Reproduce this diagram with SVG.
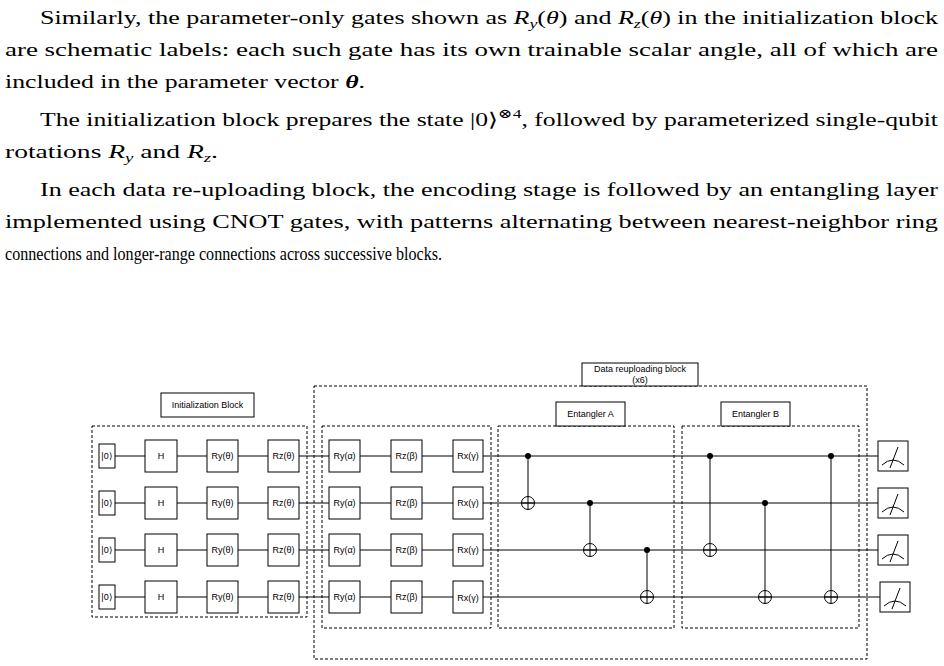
<svg xmlns="http://www.w3.org/2000/svg" width="944" height="666" viewBox="0 0 944 666">
<style>
.t{font-family:"Liberation Serif","DejaVu Serif",serif;font-size:19px;fill:#000}
.i{font-style:italic}
.g{fill:#fff;stroke:#000;stroke-width:1}
.gl{font-family:"Liberation Sans",Arial,sans-serif;font-size:9px;text-anchor:middle;dominant-baseline:central;fill:#000}
.d{fill:none;stroke:#000;stroke-width:1;stroke-dasharray:3,2}
.w{stroke:#000;stroke-width:1;fill:none}
</style>
<rect width="944" height="666" fill="#fff"/>
<g id="text">
<text class="t" x="40" y="24" textLength="898" lengthAdjust="spacingAndGlyphs">Similarly, the parameter-only gates shown as <tspan class="i">R</tspan><tspan class="i" font-size="13" dy="4">y</tspan><tspan dy="-4">(</tspan><tspan class="i">θ</tspan>) and <tspan class="i">R</tspan><tspan class="i" font-size="13" dy="4">z</tspan><tspan dy="-4">(</tspan><tspan class="i">θ</tspan>) in the initialization block</text>
<text class="t" x="5" y="56" textLength="933" lengthAdjust="spacingAndGlyphs">are schematic labels: each such gate has its own trainable scalar angle, all of which are</text>
<text class="t" x="5" y="88" textLength="360" lengthAdjust="spacingAndGlyphs">included in the parameter vector <tspan font-weight="bold" class="i">θ</tspan>.</text>
<text class="t" x="40" y="126" textLength="898" lengthAdjust="spacingAndGlyphs">The initialization block prepares the state |0⟩<tspan font-size="13" dy="-8">⊗4</tspan><tspan dy="8">, followed by parameterized single-qubit</tspan></text>
<text class="t" x="5" y="158" textLength="213" lengthAdjust="spacingAndGlyphs">rotations <tspan class="i">R</tspan><tspan class="i" font-size="13" dy="4">y</tspan><tspan dy="-4"> and </tspan><tspan class="i">R</tspan><tspan class="i" font-size="13" dy="4">z</tspan><tspan dy="-4">.</tspan></text>
<text class="t" x="40" y="196" textLength="898" lengthAdjust="spacingAndGlyphs">In each data re-uploading block, the encoding stage is followed by an entangling layer</text>
<text class="t" x="5" y="228" textLength="933" lengthAdjust="spacingAndGlyphs">implemented using CNOT gates, with patterns alternating between nearest-neighbor ring</text>
<text class="t" x="5" y="260" textLength="437" lengthAdjust="spacingAndGlyphs">connections and longer-range connections across successive blocks.</text>
</g>
<g id="blocks">
<rect class="d" x="92" y="426" width="215" height="191"/>
<rect class="d" x="314" y="386" width="553" height="273"/>
<rect class="d" x="322" y="426" width="169" height="202"/>
<rect class="d" x="498" y="426" width="176" height="202"/>
<rect class="d" x="682" y="426" width="177" height="202"/>
<g id="lbl-init"><rect class="g" x="161" y="393" width="93" height="24"/><text class="gl" x="207.5" y="405">Initialization Block</text></g>
<g id="lbl-data"><rect class="g" x="582" y="363" width="116" height="23"/><text class="gl" x="640" y="369">Data reuploading block</text><text class="gl" x="640" y="380">(x6)</text></g>
<g id="lbl-entA"><rect class="g" x="556" y="402" width="69" height="24"/><text class="gl" x="590.5" y="414">Entangler A</text></g>
<g id="lbl-entB"><rect class="g" x="721" y="402" width="69" height="24"/><text class="gl" x="755.5" y="414">Entangler B</text></g>
</g>
<g id="connectors">
<path class="w" d="M115 456H878M115 503H878M115 550H878M115 597H880"/>
<path class="w" d="M528 456V509.5M590 503V556.5M647 550V603.5M710 456V556.5M765 503V603.5M831 456V603.5"/>
<g fill="#000"><circle cx="528" cy="456" r="3"/><circle cx="590" cy="503" r="3"/><circle cx="647" cy="550" r="3"/><circle cx="710" cy="456" r="3"/><circle cx="765" cy="503" r="3"/><circle cx="831" cy="456" r="3"/></g>
<g fill="none" stroke="#000"><circle cx="528" cy="503" r="6.5"/><circle cx="590" cy="550" r="6.5"/><circle cx="647" cy="597" r="6.5"/><circle cx="710" cy="550" r="6.5"/><circle cx="765" cy="597" r="6.5"/><circle cx="831" cy="597" r="6.5"/>
<path d="M521.5 503H534.5M583.5 550H596.5M640.5 597H653.5M703.5 550H716.5M758.5 597H771.5M824.5 597H837.5"/></g>
</g>
<g id="gates">
<g id="q0"><rect class="g" x="99" y="444" width="16" height="24"/><text class="gl" x="107" y="456">|0⟩</text><rect class="g" x="145" y="440" width="32" height="32"/><text class="gl" x="161" y="456">H</text><rect class="g" x="207" y="440" width="31" height="32"/><text class="gl" x="222.5" y="456">Ry(θ)</text><rect class="g" x="268" y="440" width="31" height="32"/><text class="gl" x="283.5" y="456">Rz(θ)</text><rect class="g" x="329" y="440" width="31" height="32"/><text class="gl" x="344.5" y="456">Ry(α)</text><rect class="g" x="391" y="440" width="31" height="32"/><text class="gl" x="406.5" y="456">Rz(β)</text><rect class="g" x="453" y="440" width="30" height="32"/><text class="gl" x="468" y="456">Rx(γ)</text></g>
<g id="q1"><rect class="g" x="99" y="491" width="16" height="24"/><text class="gl" x="107" y="503">|0⟩</text><rect class="g" x="145" y="487" width="32" height="32"/><text class="gl" x="161" y="503">H</text><rect class="g" x="207" y="487" width="31" height="32"/><text class="gl" x="222.5" y="503">Ry(θ)</text><rect class="g" x="268" y="487" width="31" height="32"/><text class="gl" x="283.5" y="503">Rz(θ)</text><rect class="g" x="329" y="487" width="31" height="32"/><text class="gl" x="344.5" y="503">Ry(α)</text><rect class="g" x="391" y="487" width="31" height="32"/><text class="gl" x="406.5" y="503">Rz(β)</text><rect class="g" x="453" y="487" width="30" height="32"/><text class="gl" x="468" y="503">Rx(γ)</text></g>
<g id="q2"><rect class="g" x="99" y="538" width="16" height="24"/><text class="gl" x="107" y="550">|0⟩</text><rect class="g" x="145" y="534" width="32" height="32"/><text class="gl" x="161" y="550">H</text><rect class="g" x="207" y="534" width="31" height="32"/><text class="gl" x="222.5" y="550">Ry(θ)</text><rect class="g" x="268" y="534" width="31" height="32"/><text class="gl" x="283.5" y="550">Rz(θ)</text><rect class="g" x="329" y="534" width="31" height="32"/><text class="gl" x="344.5" y="550">Ry(α)</text><rect class="g" x="391" y="534" width="31" height="32"/><text class="gl" x="406.5" y="550">Rz(β)</text><rect class="g" x="453" y="534" width="30" height="32"/><text class="gl" x="468" y="550">Rx(γ)</text></g>
<g id="q3"><rect class="g" x="99" y="585" width="16" height="24"/><text class="gl" x="107" y="597">|0⟩</text><rect class="g" x="145" y="581" width="32" height="32"/><text class="gl" x="161" y="597">H</text><rect class="g" x="207" y="581" width="31" height="32"/><text class="gl" x="222.5" y="597">Ry(θ)</text><rect class="g" x="268" y="581" width="31" height="32"/><text class="gl" x="283.5" y="597">Rz(θ)</text><rect class="g" x="329" y="581" width="31" height="32"/><text class="gl" x="344.5" y="597">Ry(α)</text><rect class="g" x="391" y="581" width="31" height="32"/><text class="gl" x="406.5" y="597">Rz(β)</text><rect class="g" x="453" y="581" width="30" height="32" stroke-width="1.5"/><text class="gl" x="468" y="598">Rx(γ)</text></g>
<g id="meters">
<rect class="g" x="878" y="441" width="30" height="30"/><path class="w" d="M882 465Q893 455 904 465M890 468L898 447"/>
<rect class="g" x="878" y="488" width="30" height="30"/><path class="w" d="M882 512Q893 502 904 512M890 515L898 494"/>
<rect class="g" x="878" y="535" width="30" height="30"/><path class="w" d="M882 559Q893 549 904 559M890 562L898 541"/>
<rect class="g" x="880" y="582" width="30" height="30"/><path class="w" d="M884 606Q895 596 906 606M892 609L900 588"/>
</g>
</g>
</svg>
